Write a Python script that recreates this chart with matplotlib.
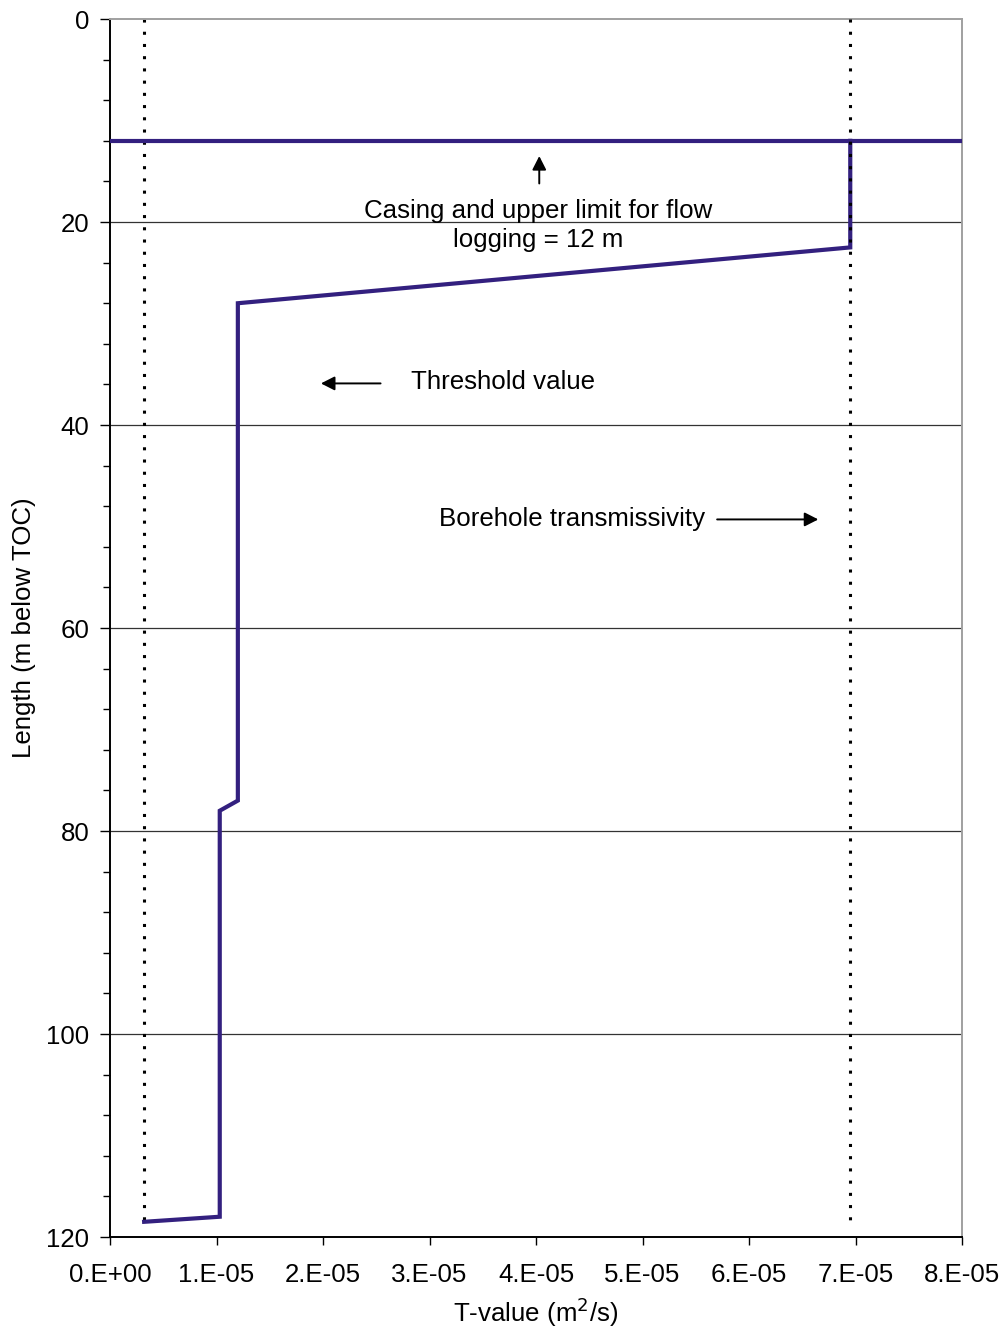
import matplotlib
matplotlib.use("Agg")
import matplotlib.pyplot as plt
from matplotlib.ticker import MultipleLocator

plt.rcParams['font.family'] = ['Liberation Sans', 'DejaVu Sans']

# Borehole transmissivity profile (T in m2/s vs length in m below TOC)
profile_t = [6.95e-5, 6.95e-5, 1.20e-5, 1.20e-5, 1.03e-5, 1.03e-5, 3.2e-6]
profile_depth = [12.0, 22.5, 28.0, 77.0, 78.0, 118.0, 118.5]

# Casing / upper limit for flow logging
casing_depth = 12.0

# Reference levels drawn as dotted verticals
threshold_t = 3.2e-6
borehole_t = 6.95e-5
ref_depth = [0.0, 118.5]

x_ticks = [0, 1e-5, 2e-5, 3e-5, 4e-5, 5e-5, 6e-5, 7e-5, 8e-5]
x_tick_labels = ["0.E+00", "1.E-05", "2.E-05", "3.E-05", "4.E-05",
                 "5.E-05", "6.E-05", "7.E-05", "8.E-05"]
y_ticks = [0, 20, 40, 60, 80, 100, 120]

line_color = '#33207f'
fs = 18.6

fig = plt.figure(figsize=(10.05, 13.31), dpi=100)
ax = fig.add_axes([0.1095, 0.0706, 0.8478, 0.9151])

ax.set_xlim(0, 8e-5)
ax.set_ylim(120, 0)

for y in y_ticks[1:-1]:
    ax.axhline(y, color='#333333', lw=0.9, zorder=1)

dot_style = (0, (1.0, 3.0))
ax.plot([threshold_t, threshold_t], ref_depth, color='black', lw=2.2,
        linestyle=dot_style, zorder=2)
ax.plot([borehole_t, borehole_t], ref_depth, color='black', lw=2.2,
        linestyle=dot_style, zorder=4)

ax.plot([0, 8e-5], [casing_depth, casing_depth], color=line_color, lw=3.0,
        zorder=3, solid_capstyle='butt')
ax.plot(profile_t, profile_depth, color=line_color, lw=3.0, zorder=3,
        solid_joinstyle='miter')

ax.set_xticks(x_ticks)
ax.set_xticklabels(x_tick_labels)
ax.set_yticks(y_ticks)
ax.yaxis.set_minor_locator(MultipleLocator(4))
ax.tick_params(axis='x', which='major', direction='out', length=6,
               width=1, labelsize=fs, pad=13)
ax.tick_params(axis='y', which='major', direction='out', length=7,
               width=1, labelsize=fs, pad=8)
ax.tick_params(axis='y', which='minor', direction='out', length=5, width=1)
ax.tick_params(axis='x', which='minor', bottom=False)

ax.spines['left'].set_color('black')
ax.spines['bottom'].set_color('black')
ax.spines['top'].set_color('#a0a0a0')
ax.spines['right'].set_color('#a0a0a0')
for s in ax.spines.values():
    s.set_linewidth(1.4)

ax.set_xlabel("T-value (m$^2$/s)", fontsize=fs, labelpad=6)
ax.set_ylabel("Length (m below TOC)", fontsize=fs, labelpad=7)

arrow_kw = dict(arrowstyle='-|>,head_length=0.55,head_width=0.28',
                color='black', lw=1.4, mutation_scale=15,
                shrinkA=0, shrinkB=0)

# Annotations
ax.text(4.02e-5, 20.35, "Casing and upper limit for flow\nlogging = 12 m",
        ha='center', va='center', fontsize=fs, linespacing=1.3)
ax.annotate("", xy=(4.03e-5, 13.5), xytext=(4.03e-5, 16.2),
            arrowprops=arrow_kw)

ax.text(2.83e-5, 35.8, "Threshold value", ha='left', va='center', fontsize=fs)
ax.annotate("", xy=(1.98e-5, 35.9), xytext=(2.54e-5, 35.9),
            arrowprops=arrow_kw)

ax.text(3.09e-5, 49.3, "Borehole transmissivity", ha='left', va='center',
        fontsize=fs)
ax.annotate("", xy=(6.65e-5, 49.3), xytext=(5.7e-5, 49.3),
            arrowprops=arrow_kw)

fig.savefig("out.png", dpi=100)
